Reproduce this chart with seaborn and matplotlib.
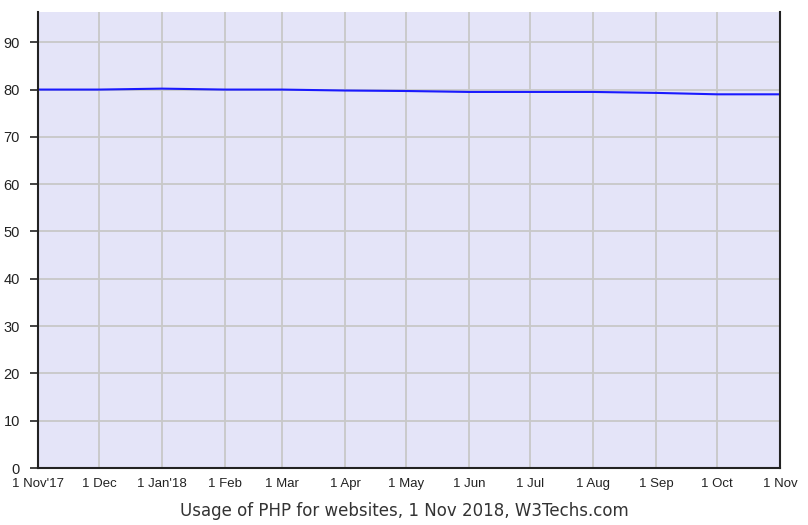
import pandas as pd
import matplotlib
matplotlib.use("Agg")
import matplotlib.pyplot as plt
import seaborn as sns

# Monthly usage share of PHP (%)
dates = ["2017-11-01", "2017-12-01", "2018-01-01", "2018-02-01", "2018-03-01",
         "2018-04-01", "2018-05-01", "2018-06-01", "2018-07-01", "2018-08-01",
         "2018-09-01", "2018-10-01", "2018-11-01"]
usage = [80.0, 80.0, 80.2, 80.0, 80.0, 79.8, 79.7, 79.5, 79.5, 79.5, 79.3, 79.0, 79.0]
tick_labels = ["1 Nov'17", "1 Dec", "1 Jan'18", "1 Feb", "1 Mar", "1 Apr", "1 May",
               "1 Jun", "1 Jul", "1 Aug", "1 Sep", "1 Oct", "1 Nov"]
y_ticks = [0, 10, 20, 30, 40, 50, 60, 70, 80, 90]

df = pd.DataFrame({"date": pd.to_datetime(dates), "usage": usage})

fig = plt.figure(figsize=(8.08, 5.25), dpi=100)
ax = fig.add_axes([38 / 808, 57 / 525, 742 / 808, 456 / 525])
ax.set_facecolor("#e4e4f8")

sns.lineplot(data=df, x="date", y="usage", ax=ax, color="#1a1aff", linewidth=1.5, zorder=3)

ax.set_xlim(df["date"].iloc[0], df["date"].iloc[-1])
ax.set_ylim(0, 96.4)
ax.set_yticks(y_ticks)
ax.set_xticks(df["date"])
ax.set_xticklabels(tick_labels)

ax.grid(True, color="#c8c8c8", linewidth=1.3, zorder=1)
ax.set_axisbelow(True)

for s in ["left", "bottom", "right"]:
    ax.spines[s].set_color("#222222")
    ax.spines[s].set_linewidth(1.5)
    ax.spines[s].set_zorder(4)
ax.spines["top"].set_visible(False)

ax.tick_params(axis="y", length=6, width=1.2, pad=7, labelsize=10.5,
               labelfontfamily="Liberation Sans", color="#222222", labelcolor="#222222")
ax.tick_params(axis="x", length=0, pad=7, labelsize=9.5,
               labelfontfamily="Liberation Sans", labelcolor="#222222")

ax.set_xlabel("")
ax.set_ylabel("")
fig.text(0.5, 14 / 525, "Usage of PHP for websites, 1 Nov 2018, W3Techs.com",
         ha="center", va="center", fontsize=12, family="DejaVu Sans", color="#333333")

fig.savefig("out.png", dpi=100, facecolor="white")
